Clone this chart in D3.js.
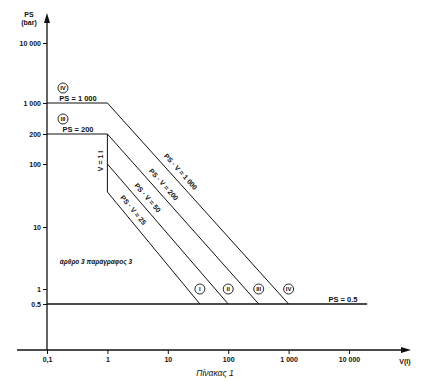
<!DOCTYPE html>
<html><head><meta charset="utf-8">
<script src="https://cdn.jsdelivr.net/npm/d3@7"></script>
<style>
html,body{margin:0;padding:0;background:#fff;}
svg{display:block;}
text{font-family:"Liberation Sans",Arial,sans-serif;fill:#111;}
</style></head>
<body>
<svg id="c" width="438" height="381"></svg>
<script>
// ---- data ----
const xTickValues = [0.1, 1, 10, 100, 1000, 10000];
const xTickLabels = ["0,1", "1", "10", "100", "1 000", "10 000"];
const yTickValues = [0.5, 1, 10, 100, 200, 1000, 10000];
const yTickLabels = ["0.5", "1", "10", "100", "200", "1 000", "10 000"];

const lineIV_V  = [0.1, 1, 1000];   const lineIV_PS  = [1000, 1000, 0.5];
const lineIII_V = [0.1, 1, 320];    const lineIII_PS = [200, 200, 0.5];
const lineII_V  = [1, 100];         const lineII_PS  = [100, 0.5];
const lineI_V   = [1, 1, 34];       const lineI_PS   = [200, 36, 0.5];
const floor_V   = [0.1, 20000];     const floor_PS   = [0.5, 0.5];

const diagLabels = ["PS · V = 1 000", "PS · V = 200", "PS · V = 50", "PS · V = 25"];
const romans = ["I", "II", "III", "IV"];

// ---- scales ----
const svg = d3.select("#c");
const x = d3.scaleLog().domain([0.1, 10000]).range([47, 349]);
const y = d3.scaleLog().domain([0.5, 1, 10, 100, 200, 1000, 10000])
  .range([304, 289, 227, 164, 134, 103, 43]);

const axisY = 350, axisX = 47;

// axes lines + arrows
svg.append("line").attr("x1", axisX).attr("x2", axisX).attr("y1", axisY).attr("y2", 20)
  .attr("stroke", "#111").attr("stroke-width", 1.3);
svg.append("path").attr("d", `M${axisX},13 L${axisX-3},23 L${axisX+3},23 Z`).attr("fill", "#111");
svg.append("line").attr("x1", 17).attr("x2", 403).attr("y1", axisY).attr("y2", axisY)
  .attr("stroke", "#111").attr("stroke-width", 1.3);
svg.append("path").attr("d", `M411,${axisY} L401,${axisY-3} L401,${axisY+3} Z`).attr("fill", "#111");

// ticks via d3 axes
const gx = svg.append("g").attr("transform", `translate(0,${axisY})`)
  .call(d3.axisBottom(x).tickValues(xTickValues).tickSize(4).tickPadding(3)
    .tickFormat((d, i) => xTickLabels[i]));
const gy = svg.append("g").attr("transform", `translate(${axisX},0)`)
  .call(d3.axisLeft(y).tickValues(yTickValues).tickSize(4).tickPadding(2)
    .tickFormat((d, i) => yTickLabels[i]));
[gx, gy].forEach(g => {
  g.select(".domain").remove();
  g.selectAll(".tick line").attr("stroke", "#111").attr("stroke-width", 1);
  g.selectAll(".tick text").attr("font-size", 7).attr("font-weight", "bold")
    .attr("font-family", "'Liberation Sans',Arial,sans-serif").attr("fill", "#111");
});

// lines
const series = [
  [lineIV_V, lineIV_PS], [lineIII_V, lineIII_PS], [lineII_V, lineII_PS],
  [lineI_V, lineI_PS], [floor_V, floor_PS]
];
const lineGen = d3.line().x(d => x(d[0])).y(d => y(d[1]));
series.forEach(([vs, ps], k) => {
  svg.append("path").datum(vs.map((v, i) => [v, ps[i]]))
    .attr("d", lineGen).attr("fill", "none").attr("stroke", "#111")
    .attr("stroke-width", k === 4 ? 1.3 : 1);
});

// diagonal labels along lines
const diags = [
  [lineIV_V, lineIV_PS, 0.37], [lineIII_V, lineIII_PS, 0.33],
  [lineII_V, lineII_PS, 0.28], [lineI_V, lineI_PS, 0.21]
];
diags.forEach(([vs, ps, t], k) => {
  const n = vs.length;
  const x0 = x(vs[n-2]), y0 = y(ps[n-2]), x1 = x(vs[n-1]), y1 = y(ps[n-1]);
  const px = x0 + (x1 - x0) * t, py = y0 + (y1 - y0) * t;
  const ang = Math.atan2(y1 - y0, x1 - x0) * 180 / Math.PI;
  svg.append("text").attr("transform", `translate(${px},${py}) rotate(${ang})`)
    .attr("text-anchor", "middle").attr("dy", -6).attr("font-size", 7)
    .attr("font-weight", "bold").text(diagLabels[k]);
});

// vertical label V = 1 l
svg.append("text").attr("transform", `translate(${x(1) - 4},${(y(200) + y(36)) / 2 - 2}) rotate(-90)`)
  .attr("text-anchor", "middle").attr("font-size", 7).attr("font-weight", "bold").text("V = 1 l");

// roman circles at bottom of lines
const ends = [lineI_V[2], lineII_V[1], lineIII_V[2], lineIV_V[2]];
ends.forEach((v, i) => {
  const cx = x(v), cy = y(0.5) - 15;
  svg.append("circle").attr("cx", cx).attr("cy", cy).attr("r", 5)
    .attr("fill", "none").attr("stroke", "#111").attr("stroke-width", 0.9);
  svg.append("text").attr("x", cx).attr("y", cy + 2.2).attr("text-anchor", "middle")
    .attr("font-size", 6).attr("font-weight", "bold").text(romans[i]);
});

// roman circles at top-left
[[3, 1000, "PS = 1 000"], [2, 200, "PS = 200"]].forEach(([ri, ps, lab]) => {
  const cy = y(ps) - 15, cx = 63;
  svg.append("circle").attr("cx", cx).attr("cy", cy).attr("r", 5)
    .attr("fill", "none").attr("stroke", "#111").attr("stroke-width", 0.9);
  svg.append("text").attr("x", cx).attr("y", cy + 2.2).attr("text-anchor", "middle")
    .attr("font-size", 6).attr("font-weight", "bold").text(romans[ri]);
  svg.append("text").attr("x", 78).attr("y", y(ps) - 2.5).attr("text-anchor", "middle")
    .attr("font-size", 7.5).attr("font-weight", "bold").text(lab);
});

// PS = 0.5 label
svg.append("text").attr("x", 343).attr("y", y(0.5) - 2.5).attr("text-anchor", "middle")
  .attr("font-size", 7.5).attr("font-weight", "bold").text("PS = 0.5");

// axis titles
svg.append("text").attr("x", 29).attr("y", 17).attr("text-anchor", "middle")
  .attr("font-size", 7).attr("font-weight", "bold").text("PS");
svg.append("text").attr("x", 29).attr("y", 25).attr("text-anchor", "middle")
  .attr("font-size", 7).attr("font-weight", "bold").text("(bar)");
svg.append("text").attr("x", 405).attr("y", 364).attr("text-anchor", "middle")
  .attr("font-size", 7).attr("font-weight", "bold").text("V(l)");

// annotations
svg.append("text").attr("x", 96).attr("y", 264).attr("text-anchor", "middle")
  .attr("font-size", 6.5).attr("font-weight", "bold").attr("font-style", "italic")
  .text("άρθρο 3 παράγραφος 3");
svg.append("text").attr("x", 215).attr("y", 376).attr("text-anchor", "middle")
  .attr("font-size", 8.5).attr("font-style", "italic")
  .attr("font-family", "'Liberation Serif','Times New Roman',serif").text("Πίνακας 1");
</script>
</body></html>
